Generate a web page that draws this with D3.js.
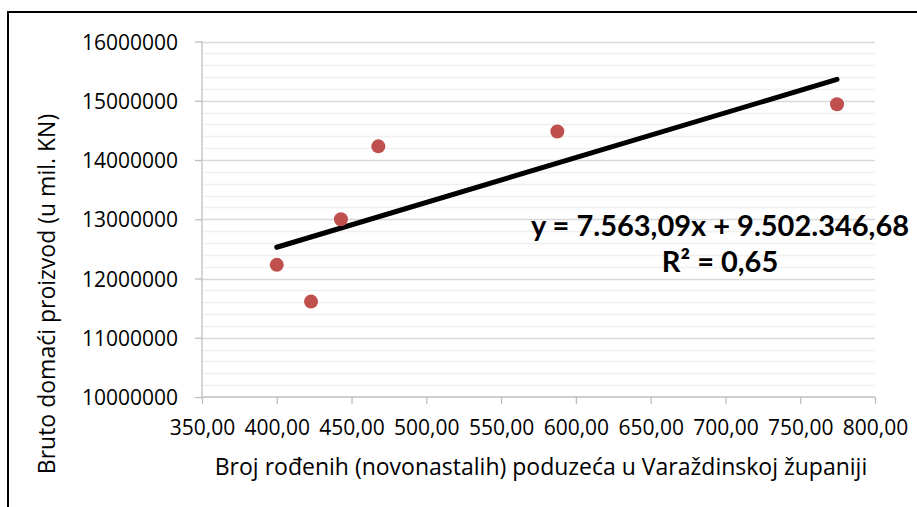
<!DOCTYPE html>
<html>
<head>
<meta charset="utf-8">
<script src="https://cdn.jsdelivr.net/npm/d3@7"></script>
<style>
  html, body { margin: 0; padding: 0; background: #fff; }
  body { width: 917px; height: 507px; overflow: hidden; }
  text { font-family: "Open Sans", "Noto Sans", sans-serif; fill: #000; }
</style>
</head>
<body>
<div class="container"></div>
<script>
// data
var firms = [400.0, 422.9, 442.9, 467.9, 587.6, 774.6];
var gdp = [12230000, 11610000, 13000000, 14230000, 14480000, 14940000];
var xTicks = [350, 400, 450, 500, 550, 600, 650, 700, 750, 800];
var yTicks = [10000000, 11000000, 12000000, 13000000, 14000000, 15000000, 16000000];
var trendSlope = 7563.09;
var trendIntercept = 9502346.68;
var equationLines = ["y = 7.563,09x + 9.502.346,68", "R² = 0,65"];
var xTitle = "Broj rođenih (novonastalih) poduzeća u Varaždinskoj županiji";
var yTitle = "Bruto domaći proizvod (u mil. KN)";

var W = 917, H = 507;
var plot = { left: 202, right: 875, top: 41.5, bottom: 397 };

var svg = d3.select(".container").append("svg")
    .attr("width", W)
    .attr("height", H);

// outer frame (runs off the right and bottom edge)
svg.append("path")
    .attr("d", "M8,520 L8,12 L930,12")
    .attr("fill", "none")
    .attr("stroke", "#000")
    .attr("stroke-width", 2);

var x = d3.scaleLinear().domain([350, 800]).range([plot.left, plot.right]);
var y = d3.scaleLinear().domain([10000000, 16000000]).range([plot.bottom, plot.top]);

// minor gridlines every 200000
var minor = d3.range(10000000, 16000001, 200000).filter(function (v) { return v % 1000000 !== 0; });
svg.append("g").selectAll("line")
    .data(minor)
    .enter().append("line")
    .attr("x1", plot.left).attr("x2", plot.right)
    .attr("y1", function (d) { return Math.round(y(d)) + 0.5; })
    .attr("y2", function (d) { return Math.round(y(d)) + 0.5; })
    .attr("stroke", "#f0f0f0")
    .attr("stroke-width", 1.3);

// major gridlines
svg.append("g").selectAll("line")
    .data(yTicks.slice(1))
    .enter().append("line")
    .attr("x1", plot.left).attr("x2", plot.right)
    .attr("y1", function (d) { return Math.round(y(d)) + 0.5; })
    .attr("y2", function (d) { return Math.round(y(d)) + 0.5; })
    .attr("stroke", "#d9d9d9")
    .attr("stroke-width", 1.3);

// y axis
var yAxis = svg.append("g")
    .attr("transform", "translate(" + plot.left + ",0)")
    .call(d3.axisLeft(y).tickValues(yTicks).tickSize(7).tickPadding(17)
        .tickFormat(d3.format("d")));
yAxis.select(".domain").attr("stroke", "#bfbfbf").attr("stroke-width", 1.3)
    .attr("d", "M0," + plot.top + "V" + plot.bottom);
yAxis.selectAll(".tick line").attr("stroke", "#bfbfbf").attr("stroke-width", 1.3);
yAxis.selectAll(".tick text")
    .style("font-size", "21px")
    .attr("dy", "0.36em");

// x axis
var xAxis = svg.append("g")
    .attr("transform", "translate(0," + plot.bottom + ")")
    .call(d3.axisBottom(x).tickValues(xTicks).tickSize(7).tickPadding(16)
        .tickFormat(function (d) { return d3.format(".2f")(d).replace(".", ","); }));
xAxis.select(".domain").attr("stroke", "#bfbfbf").attr("stroke-width", 1.3)
    .attr("d", "M" + plot.left + ",0H" + plot.right);
xAxis.selectAll(".tick line").attr("stroke", "#bfbfbf").attr("stroke-width", 1.3);
xAxis.selectAll(".tick text")
    .style("font-size", "21px")
    .attr("dy", "0.71em");

// axis titles
svg.append("text")
    .attr("x", 541)
    .attr("y", 475)
    .attr("text-anchor", "middle")
    .style("font-size", "23px")
    .text(xTitle);

svg.append("text")
    .attr("transform", "translate(55,294) rotate(-90)")
    .attr("text-anchor", "middle")
    .style("font-size", "23px")
    .text(yTitle);

// trendline
var xExtent = d3.extent(firms);
svg.append("line")
    .attr("x1", x(xExtent[0]))
    .attr("y1", y(trendSlope * xExtent[0] + trendIntercept))
    .attr("x2", x(xExtent[1]))
    .attr("y2", y(trendSlope * xExtent[1] + trendIntercept))
    .attr("stroke", "#000")
    .attr("stroke-width", 5)
    .attr("stroke-linecap", "round");

// points
svg.append("g").selectAll("circle")
    .data(firms)
    .enter().append("circle")
    .attr("cx", function (d) { return x(d); })
    .attr("cy", function (d, i) { return y(gdp[i]); })
    .attr("r", 7)
    .attr("fill", "#c0504d");

// equation label
svg.append("g").selectAll("text")
    .data(equationLines)
    .enter().append("text")
    .attr("x", 720)
    .attr("y", function (d, i) { return 236 + i * 36; })
    .attr("text-anchor", "middle")
    .style("font-family", "Lato, sans-serif")
    .style("font-size", "29px")
    .style("font-weight", "bold")
    .text(function (d) { return d; });
</script>
</body>
</html>
